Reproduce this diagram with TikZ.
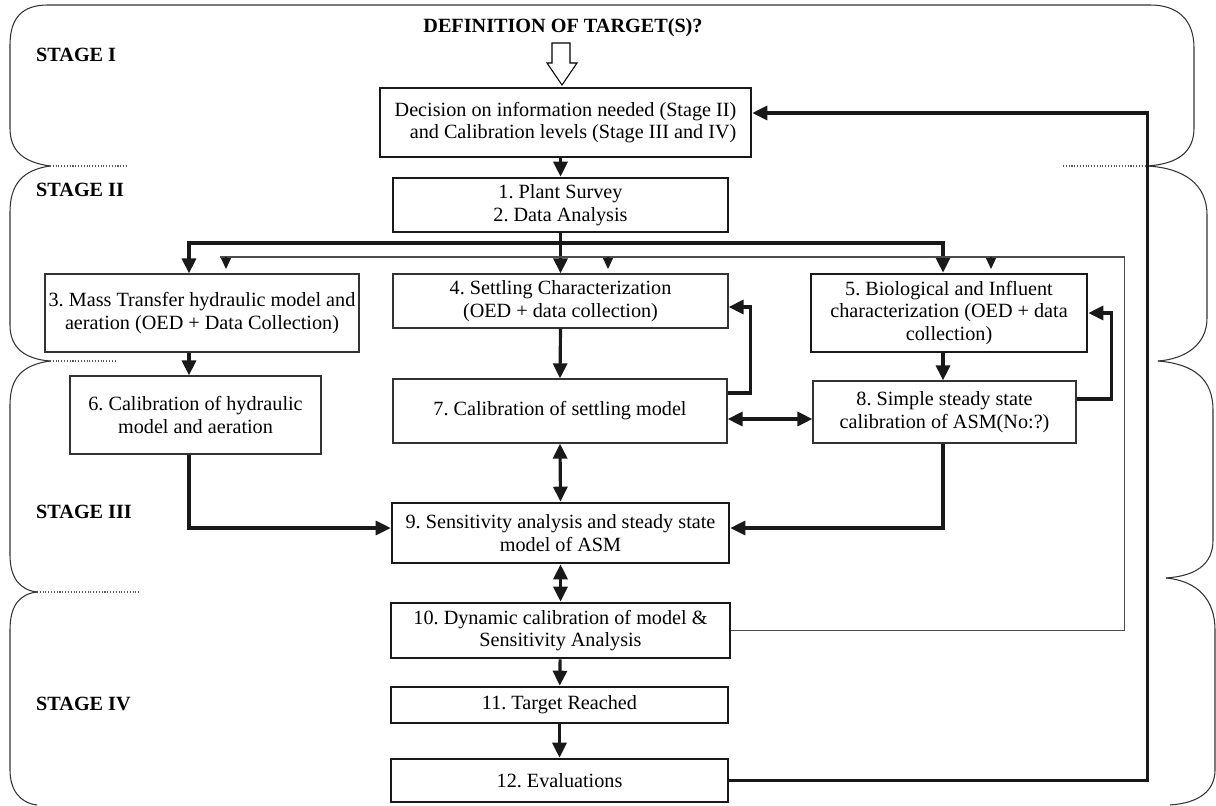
\documentclass[tikz,border=0pt]{standalone}
\usepackage{fontspec}
\setmainfont{Liberation Serif}
\usetikzlibrary{arrows.meta}
\frenchspacing
\tikzset{
  box/.style={draw=black!80, line width=0.7pt, align=center, inner sep=2pt, font=\fontsize{11.5}{13}\selectfont},
  thickbox/.style={box, draw=black!90, line width=1.5pt},
  arr/.style={draw=black!90, line width=1.8pt, -{Triangle[length=0.3cm,width=0.28cm]}},
  dbl/.style={draw=black!90, line width=1.8pt, {Triangle[length=0.3cm,width=0.28cm]}-{Triangle[length=0.3cm,width=0.28cm]}},
  thinline/.style={draw=black!70, line width=0.6pt},
  tick/.style={draw=black!90, line width=0.6pt, -{Triangle[length=0.22cm,width=0.2cm]}},
  bracket/.style={draw=black!80, line width=0.6pt},
  divider/.style={draw=black!65, densely dotted, line width=0.6pt},
  stagelabel/.style={font=\fontsize{11.5}{13}\selectfont\bfseries, anchor=west}
}
\begin{document}
\begin{tikzpicture}[x=0.02cm, y=-0.02cm]
\useasboundingbox (0,0) rectangle (1216,805);
% stage brackets
\draw[bracket] (50,166) .. controls (22,162) and (10,150) .. (10,128) -- (10,45) .. controls (10,18) and (22,5) .. (48,5) -- (1150,5) .. controls (1178,5) and (1194,20) .. (1194,48) -- (1194,128) .. controls (1194,152) and (1178,164) .. (1147,166);
\draw[bracket] (50,166) .. controls (22,170) and (10,185) .. (10,212) -- (10,325) .. controls (10,348) and (25,359) .. (50,361);
\draw[bracket] (1147,166) .. controls (1185,168) and (1207,185) .. (1207,215) -- (1207,318) .. controls (1207,345) and (1185,359) .. (1158,361);
\draw[bracket] (50,361) .. controls (22,365) and (10,378) .. (10,405) -- (10,555) .. controls (10,578) and (20,590) .. (37,592);
\draw[bracket] (1158,361) .. controls (1195,364) and (1213,380) .. (1213,410) -- (1213,540) .. controls (1213,565) and (1195,576) .. (1166,578);
\draw[bracket] (37,592) .. controls (20,594) and (10,605) .. (10,630) -- (10,770) .. controls (10,790) and (20,803) .. (37,805);
\draw[bracket] (1166,578) .. controls (1198,581) and (1215,600) .. (1215,630) -- (1215,770) .. controls (1215,790) and (1200,803) .. (1170,805);
\draw[divider] (50,166) -- (128,166);
\draw[divider] (1063,166) -- (1147,166);
\draw[divider] (50,361) -- (115,361);
\draw[divider] (37,592) -- (140,592);
\node[stagelabel] (s1) at (30,55) {STAGE I};
\node[stagelabel] (s2) at (30,190) {STAGE II};
\node[stagelabel] (s3) at (30,512) {STAGE III};
\node[stagelabel] (s4) at (30,704) {STAGE IV};
% target and hollow arrow
\node[font=\fontsize{11.5}{13}\selectfont\bfseries] (target) at (563,28) {DEFINITION OF TARGET(S)?};
\draw[line width=0.6pt, fill=white] (552,43) -- (570,43) -- (570,63) -- (577,63) -- (562,85) -- (547,63) -- (552,63) -- cycle;
% boxes
\node[thickbox, align=right, minimum width=7.42cm, minimum height=1.38cm] (dec) at (565.5,122.5) {Decision on information needed (Stage II)\\and Calibration levels (Stage III and IV)};
\node[thickbox, minimum width=6.70cm, minimum height=1.08cm] (survey) at (560.5,205) {1. Plant Survey\\2. Data Analysis};
\node[box, minimum width=6.24cm, minimum height=1.56cm] (mass) at (202,313) {3. Mass Transfer hydraulic model and\\aeration (OED + Data Collection)};
\node[box, minimum width=6.70cm, minimum height=1.08cm] (settle) at (560.5,301) {4. Settling Characterization\\(OED + data collection)};
\node[thickbox, minimum width=5.52cm, minimum height=1.56cm] (bio) at (949,313) {5. Biological and Influent\\characterization (OED + data\\collection)};
\node[box, minimum width=5.02cm, minimum height=1.56cm] (hydcal) at (195.5,415) {6. Calibration of hydraulic\\model and aeration};
\node[box, minimum width=6.68cm, minimum height=1.28cm] (setcal) at (560,411) {7. Calibration of settling model};
\node[box, minimum width=5.26cm, minimum height=1.24cm] (asmcal) at (944.5,412) {8. Simple steady state\\calibration of ASM(No:?)};
\node[thickbox, minimum width=6.74cm, minimum height=1.20cm] (sens) at (560.5,533) {9. Sensitivity analysis and steady state\\model of ASM};
\node[thickbox, minimum width=6.78cm, minimum height=1.10cm] (dyn) at (560.5,630.5) {10. Dynamic calibration of model \&\\Sensitivity Analysis};
\node[thickbox, minimum width=6.74cm, minimum height=0.72cm] (reach) at (559.5,705) {11. Target Reached};
\node[thickbox, minimum width=6.74cm, minimum height=0.86cm] (eval) at (559.5,780.5) {12. Evaluations};
% connectors
\coordinate (split) at (561,243);
\coordinate (colA) at (189,0);
\coordinate (colC) at (943,0);
\coordinate (loopend) at (220,257);
\draw[arr] (dec.south -| survey.north) -- (survey.north);
\draw[arr] (survey.south) -- (settle.north);
\draw[arr] (split) -| (mass.north -| colA);
\draw[arr] (split) -| (bio.north -| colC);
\draw[arr] (mass.south -| colA) -- (hydcal.north -| colA);
\draw[arr] (settle.south) -- (setcal.north);
\draw[arr] (bio.south -| colC) -- (asmcal.north -| colC);
\draw[arr] ([yshift=0.36cm]setcal.east) -- ++(23,0) |- ([yshift=-0.12cm]settle.east);
\draw[arr] ([yshift=0.26cm]asmcal.east) -- ++(35,0) |- (bio.east);
\draw[dbl] ([yshift=-0.16cm]setcal.east) -- ([yshift=-0.16cm]setcal.east -| asmcal.west);
\draw[dbl] (setcal.south) -- (sens.north);
\draw[arr] (hydcal.south -| colA) |- ([yshift=0.1cm]sens.west);
\draw[arr] (asmcal.south -| colC) |- ([yshift=0.1cm]sens.east);
\draw[dbl] (sens.south) -- (dyn.north);
\draw[arr] (dyn) -- (reach);
\draw[arr] (reach) -- (eval);
\draw[arr] (eval.east) -- ++(418,0) |- ([yshift=0.19cm]dec.east);
% thin return from step 10
\draw[thinline] (dyn.east) -- ++(393,0) |- (loopend);
\foreach \x in {226,608,991}
  \draw[tick] (\x,257) -- ++(0,12);
\end{tikzpicture}
\end{document}
